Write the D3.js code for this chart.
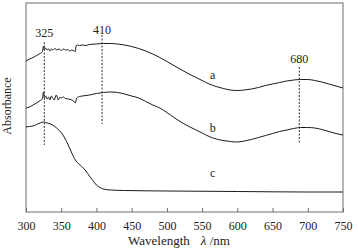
<!DOCTYPE html>
<meta charset="utf-8">
<body style="margin:0;background:#fff">
<script src="https://cdn.jsdelivr.net/npm/d3@7"></script>
<script>

var width = 358,
  height = 248;

var margin = {top: 3, right: 15, bottom: 36, left: 26};
var serif = "Liberation Serif, Tinos, Times New Roman, DejaVu Serif, serif";

// wavelength (nm) and absorbance (a.u.)
var waveA = [300,305,310,315,320,323,325,326,328,330,332,334,336,338,341,344,347,350,353,356,359,362,365,368,370,371,373,376,380,385,390,400,410,420,430,440,450,460,470,480,490,500,510,520,530,540,550,560,570,580,590,600,610,620,630,640,650,660,670,680,690,700,710,720,730,740,750];
var absA  = [1.51,1.53,1.545,1.565,1.585,1.60,1.66,1.62,1.64,1.62,1.63,1.61,1.63,1.62,1.635,1.62,1.63,1.615,1.63,1.62,1.625,1.61,1.62,1.61,1.605,1.66,1.67,1.665,1.67,1.665,1.675,1.68,1.685,1.685,1.68,1.67,1.655,1.635,1.61,1.58,1.545,1.505,1.465,1.425,1.385,1.35,1.315,1.28,1.255,1.235,1.22,1.215,1.22,1.23,1.245,1.265,1.28,1.295,1.31,1.32,1.325,1.325,1.315,1.30,1.28,1.26,1.24];

var waveB = [300,305,310,315,320,323,325,326,328,330,332,334,336,338,340,343,346,348,350,353,356,360,365,368,370,372,376,380,390,400,410,420,430,440,450,460,470,480,490,500,510,520,530,540,550,560,570,580,590,600,610,620,630,640,650,660,670,680,690,700,710,720,730,740,750];
var absB  = [1.04,1.05,1.07,1.09,1.115,1.13,1.20,1.14,1.16,1.13,1.15,1.12,1.16,1.14,1.12,1.17,1.12,1.15,1.14,1.15,1.135,1.13,1.12,1.105,1.09,1.14,1.155,1.16,1.17,1.185,1.195,1.20,1.195,1.18,1.16,1.14,1.105,1.07,1.04,0.995,0.945,0.90,0.86,0.825,0.79,0.755,0.73,0.715,0.705,0.70,0.71,0.725,0.745,0.765,0.785,0.805,0.82,0.835,0.845,0.845,0.84,0.825,0.805,0.785,0.77];

var waveC = [300,305,310,315,320,325,330,335,340,345,350,355,360,365,370,375,380,385,390,395,400,405,410,420,440,500,600,700,750];
var absC  = [0.85,0.855,0.86,0.875,0.89,0.90,0.89,0.88,0.86,0.83,0.795,0.74,0.67,0.59,0.52,0.48,0.45,0.41,0.36,0.315,0.27,0.245,0.23,0.22,0.215,0.21,0.205,0.20,0.20];

var seriesNames = ["a", "b", "c"];
var seriesLabelNm = [565, 565, 565];
var seriesLabelAbs = [1.33, 0.80, 0.35];

// dashed peak markers
var markerNm = [326, 408, 688];
var markerTop = [1.70, 1.77, 1.45];
var markerBottom = [0.67, 0.88, 0.69];
var markerLabelAbs = [1.75, 1.78, 1.49];
var markerLabels = ["325", "410", "680"];

var xTicks = [300, 350, 400, 450, 500, 550, 600, 650, 700, 750];

var svg = d3.select("body").append("svg")
  .attr("width", width)
  .attr("height", height)
  .style("font-family", serif);

var x = d3.scaleLinear().domain([300, 750]).range([margin.left, width - margin.right]);
var y = d3.scaleLinear().domain([0, 2.09]).range([height - margin.bottom, margin.top]);

// frame
svg.append("rect")
  .attr("x", x(300))
  .attr("y", y(2.09))
  .attr("width", x(750) - x(300))
  .attr("height", y(0) - y(2.09))
  .attr("fill", "none")
  .attr("stroke", "#6e6e6e")
  .attr("stroke-width", 1);

var xAxis = svg.append("g")
  .attr("transform", "translate(0," + y(0) + ")")
  .call(d3.axisBottom(x).tickValues(xTicks).tickSize(-4).tickPadding(9).tickFormat(d3.format("d")))
  .attr("font-family", null)
  .attr("font-size", null)
  .style("font-size", "12px");

xAxis.select(".domain").remove();
xAxis.selectAll(".tick line").attr("stroke", "#6e6e6e");
xAxis.selectAll(".tick text").attr("fill", "#222");

var line = d3.line()
  .x(function(d) { return x(d[0]); })
  .y(function(d) { return y(d[1]); })
  .curve(d3.curveMonotoneX);

var series = [d3.zip(waveA, absA), d3.zip(waveB, absB), d3.zip(waveC, absC)];

svg.selectAll(".curve")
  .data(series)
  .enter().append("path")
  .attr("class", "curve")
  .attr("d", line)
  .attr("fill", "none")
  .attr("stroke", "#1a1a1a")
  .attr("stroke-width", 1);

svg.selectAll(".marker")
  .data(markerNm)
  .enter().append("line")
  .attr("class", "marker")
  .attr("x1", function(d) { return x(d); })
  .attr("x2", function(d) { return x(d); })
  .attr("y1", function(d, i) { return y(markerTop[i]); })
  .attr("y2", function(d, i) { return y(markerBottom[i]); })
  .attr("stroke", "#333")
  .attr("stroke-width", 1)
  .attr("stroke-dasharray", "2,1.5");

svg.selectAll(".markerLabel")
  .data(markerNm)
  .enter().append("text")
  .attr("class", "markerLabel")
  .attr("x", function(d) { return x(d); })
  .attr("y", function(d, i) { return y(markerLabelAbs[i]); })
  .attr("text-anchor", "middle")
  .style("font-size", "12px")
  .attr("fill", "#222")
  .text(function(d, i) { return markerLabels[i]; });

svg.selectAll(".seriesLabel")
  .data(seriesNames)
  .enter().append("text")
  .attr("class", "seriesLabel")
  .attr("x", function(d, i) { return x(seriesLabelNm[i]); })
  .attr("y", function(d, i) { return y(seriesLabelAbs[i]); })
  .attr("text-anchor", "middle")
  .style("font-size", "12px")
  .attr("fill", "#222")
  .text(function(d) { return d; });

// axis titles
var xTitle = svg.append("text")
  .attr("x", 128)
  .attr("y", 245)
  .style("font-size", "13px")
  .attr("fill", "#222");
xTitle.append("tspan").text("Wavelength");
xTitle.append("tspan").attr("dx", 11).style("font-style", "italic").text("λ");
xTitle.append("tspan").text(" /nm");

svg.append("text")
  .attr("transform", "translate(11," + (y(1.06)) + ") rotate(-90)")
  .attr("text-anchor", "middle")
  .style("font-size", "12px")
  .attr("fill", "#222")
  .text("Absorbance");

</script>
</body>
</html>
